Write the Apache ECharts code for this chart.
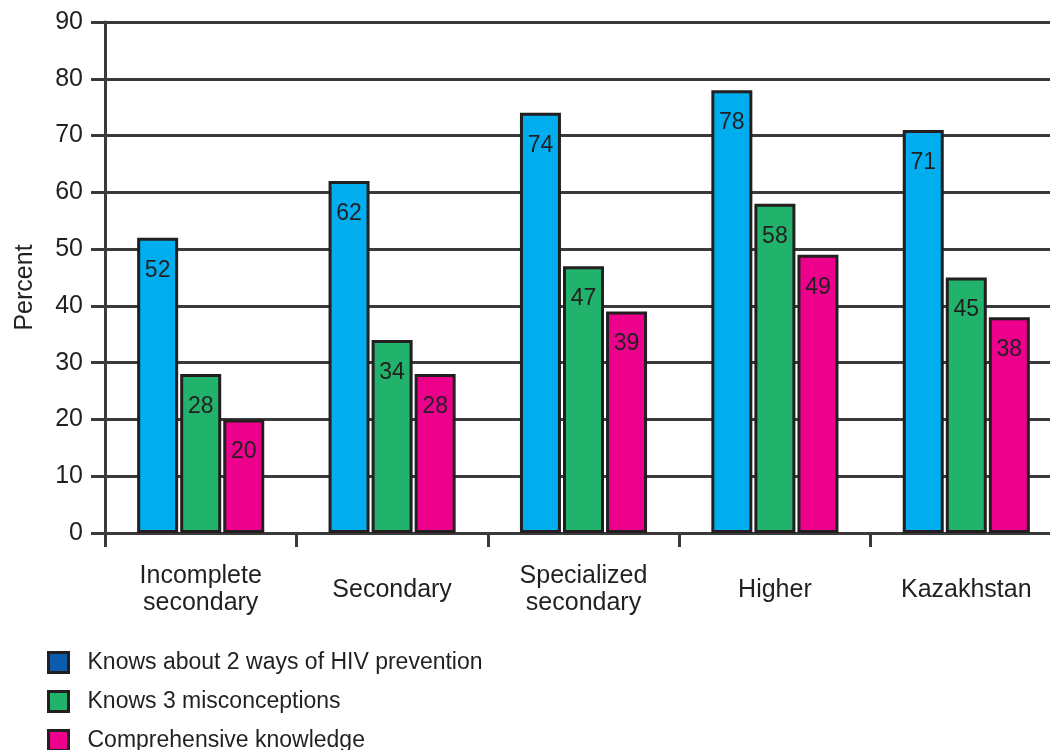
<!DOCTYPE html>
<html>
<head>
<meta charset="utf-8">
<script src="https://cdn.jsdelivr.net/npm/echarts@6/dist/echarts.min.js"></script>
<style>
html,body{margin:0;padding:0;background:#fff;}
#main{width:1050px;height:750px;}
</style>
</head>
<body>
<div id="main"></div>
<script>
const categories = ['Incomplete\nsecondary', 'Secondary', 'Specialized\nsecondary', 'Higher', 'Kazakhstan'];
const seriesNames = ['Knows about 2 ways of HIV prevention', 'Knows 3 misconceptions', 'Comprehensive knowledge'];
const knowsTwoWays = [52, 62, 74, 78, 71];
const knowsMisconceptions = [28, 34, 47, 58, 45];
const comprehensive = [20, 28, 39, 49, 38];
const yTicks = [0, 10, 20, 30, 40, 50, 60, 70, 80, 90];

const barColors = ['#00aeef', '#21b26b', '#ec008c'];
const legendColors = ['#0b5cad', '#21b26b', '#ec008c'];
const ink = '#231f20';
const lineCol = '#3a3a3a';
const font = 'Liberation Sans, Arial, Helvetica, sans-serif';

const chart = echarts.init(document.getElementById('main'), null, {renderer: 'canvas'});

function barSeries(name, data, color) {
  return {
    name: name,
    type: 'bar',
    data: data,
    barWidth: 41,
    barGap: '5%',
    itemStyle: {color: color, borderColor: ink, borderWidth: 3},
    label: {
      show: true,
      position: 'insideTop',
      distance: 21,
      color: ink,
      fontSize: 23,
      fontFamily: font
    },
    emphasis: {disabled: true},
    animation: false
  };
}

chart.setOption({
  animation: false,
  backgroundColor: '#ffffff',
  grid: {left: 105, right: -12, top: 22, bottom: 217, containLabel: false, outerBoundsMode: 'none'},
  legend: {
    orient: 'vertical',
    left: 42,
    top: 646,
    height: 200,
    icon: 'rect',
    itemWidth: 20,
    itemHeight: 20,
    itemGap: 16,
    selectedMode: false,
    itemStyle: {borderColor: ink, borderWidth: 3},
    textStyle: {fontSize: 23, color: ink, fontFamily: font, padding: [0, 0, 0, 14]},
    data: seriesNames.map((n, i) => ({name: n, itemStyle: {color: legendColors[i], borderColor: ink, borderWidth: 3}}))
  },
  xAxis: {
    type: 'category',
    data: categories,
    boundaryGap: true,
    axisLine: {show: true, lineStyle: {color: lineCol, width: 3}},
    axisTick: {show: true, length: 14, lineStyle: {color: lineCol, width: 3}},
    axisLabel: {
      fontSize: 25,
      lineHeight: 27,
      color: ink,
      fontFamily: font,
      margin: 57,
      verticalAlign: 'middle',
      interval: 0
    },
    splitLine: {show: false}
  },
  yAxis: {
    type: 'value',
    min: yTicks[0],
    max: yTicks[yTicks.length - 1],
    interval: 10,
    name: 'Percent',
    nameLocation: 'middle',
    nameGap: 67,
    nameRotate: 90,
    nameTextStyle: {fontSize: 25, color: ink, fontFamily: font, padding: [0, 20, 0, 0]},
    axisLine: {show: true, lineStyle: {color: lineCol, width: 3}},
    axisTick: {show: true, length: 14, lineStyle: {color: lineCol, width: 3}},
    axisLabel: {fontSize: 25, color: ink, fontFamily: font, margin: 22},
    splitLine: {show: true, lineStyle: {color: lineCol, width: 3}}
  },
  series: [
    barSeries(seriesNames[0], knowsTwoWays, barColors[0]),
    barSeries(seriesNames[1], knowsMisconceptions, barColors[1]),
    barSeries(seriesNames[2], comprehensive, barColors[2])
  ]
});
</script>
</body>
</html>
